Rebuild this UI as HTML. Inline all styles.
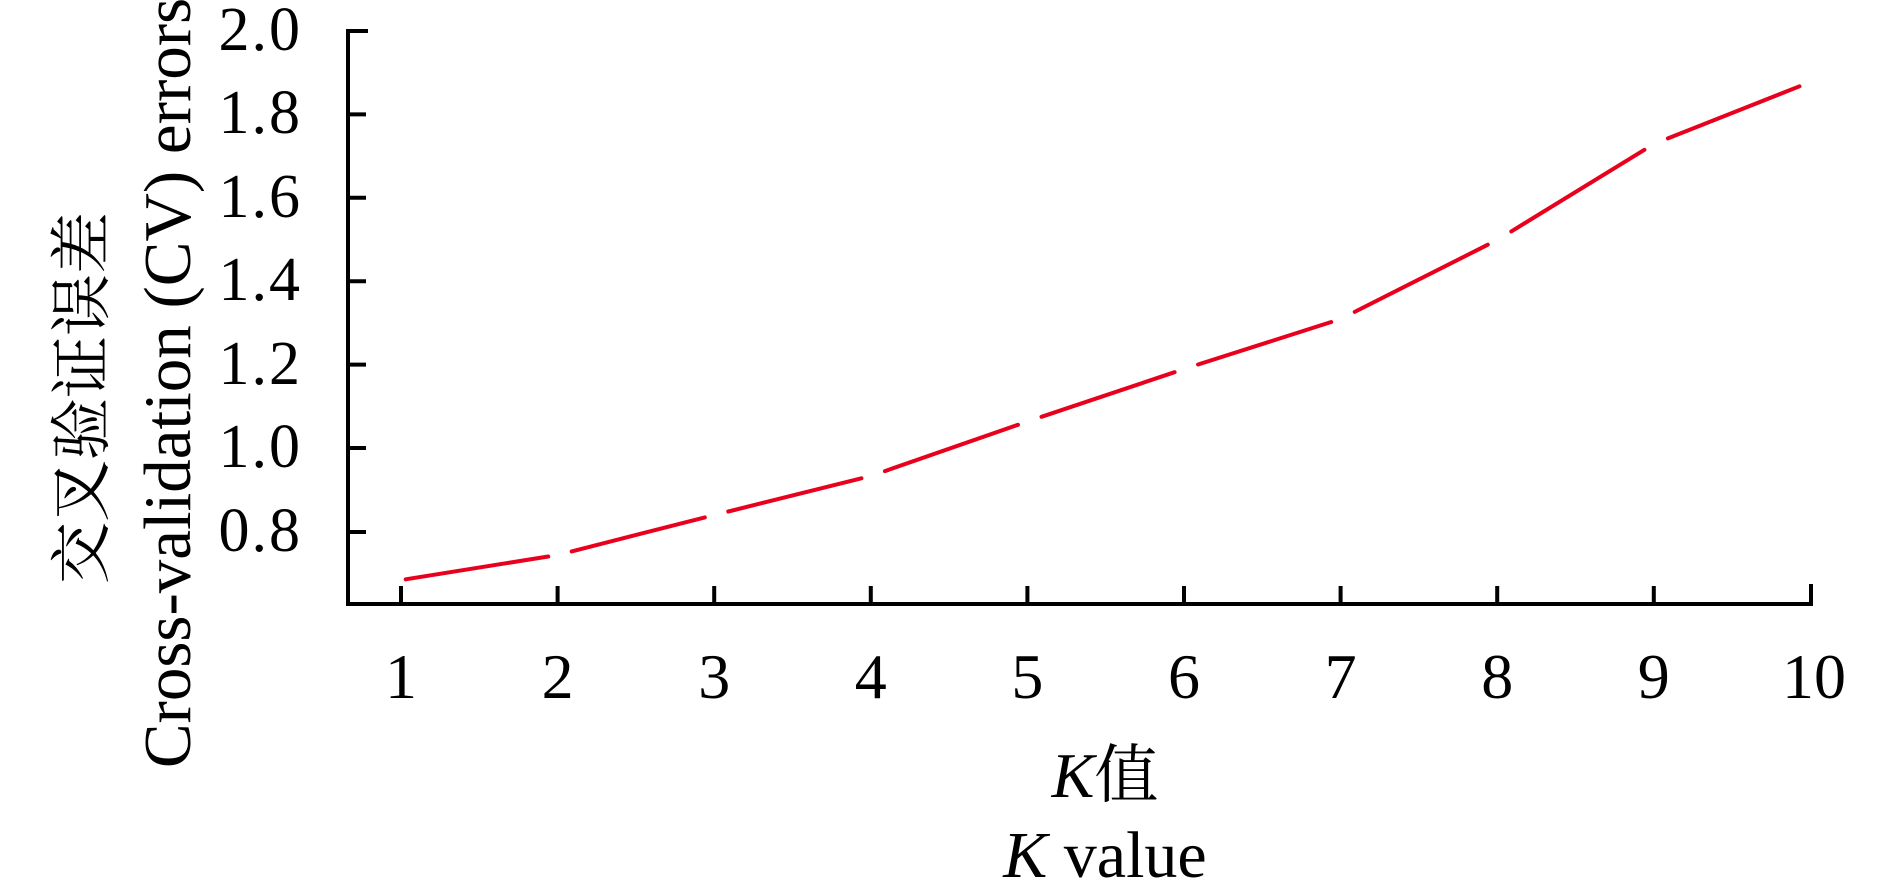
<!DOCTYPE html>
<html><head><meta charset="utf-8"><style>
html,body{margin:0;padding:0;background:#fff;}
svg{display:block;}
text{font-family:"Liberation Serif","Noto Serif CJK SC",serif;fill:#000;}
</style></head><body>
<svg width="1890" height="886" viewBox="0 0 1890 886" xmlns="http://www.w3.org/2000/svg">
<g stroke="#000" stroke-width="4" fill="none">
<polyline points="368,31 348,31 348,604 1811,604 1811,584"/>
<line x1="348" y1="114.4" x2="366" y2="114.4"/>
<line x1="348" y1="197.8" x2="366" y2="197.8"/>
<line x1="348" y1="281.2" x2="366" y2="281.2"/>
<line x1="348" y1="364.6" x2="366" y2="364.6"/>
<line x1="348" y1="448" x2="366" y2="448"/>
<line x1="348" y1="532" x2="366" y2="532"/>
<line x1="401" y1="604" x2="401" y2="586"/>
<line x1="557.6" y1="604" x2="557.6" y2="586"/>
<line x1="714.2" y1="604" x2="714.2" y2="586"/>
<line x1="870.8" y1="604" x2="870.8" y2="586"/>
<line x1="1027.4" y1="604" x2="1027.4" y2="586"/>
<line x1="1184" y1="604" x2="1184" y2="586"/>
<line x1="1340.6" y1="604" x2="1340.6" y2="586"/>
<line x1="1497.2" y1="604" x2="1497.2" y2="586"/>
<line x1="1653.8" y1="604" x2="1653.8" y2="586"/>
</g>
<g stroke="#e8001c" stroke-width="4" fill="none" stroke-linecap="round">
<line x1="405.7" y1="579.3" x2="548.2" y2="556.5"/>
<line x1="571.7" y1="551.4" x2="704.8" y2="517.4"/>
<line x1="728.3" y1="511.5" x2="861.4" y2="478.3"/>
<line x1="884.9" y1="471.1" x2="1018" y2="424.8"/>
<line x1="1041.5" y1="416.8" x2="1174.6" y2="372.2"/>
<line x1="1198.1" y1="364.5" x2="1331.2" y2="322"/>
<line x1="1354.7" y1="311.9" x2="1487.8" y2="244.7"/>
<line x1="1511.3" y1="231.4" x2="1644.4" y2="149.8"/>
<line x1="1667.9" y1="138.4" x2="1799.5" y2="86.3"/>
</g>
<g font-size="62" text-anchor="end" letter-spacing="2">
<text x="302" y="50">2.0</text>
<text x="302" y="133">1.8</text>
<text x="302" y="217">1.6</text>
<text x="302" y="300">1.4</text>
<text x="302" y="384">1.2</text>
<text x="302" y="467">1.0</text>
<text x="302" y="551">0.8</text>
</g>
<g font-size="64" text-anchor="middle">
<text x="401" y="698">1</text>
<text x="557.6" y="698">2</text>
<text x="714.2" y="698">3</text>
<text x="870.8" y="698">4</text>
<text x="1027.4" y="698">5</text>
<text x="1184" y="698">6</text>
<text x="1340.6" y="698">7</text>
<text x="1497.2" y="698">8</text>
<text x="1653.8" y="698">9</text>
<text x="1814" y="698">10</text>
</g>
<g text-anchor="middle">
<text font-size="62" transform="translate(103,398) rotate(-90)">交叉验证误差</text>
<text font-size="67" transform="translate(190,383) rotate(-90)">Cross-validation (CV) errors</text>
<text font-size="64" x="1105" y="797"><tspan font-style="italic">K</tspan>值</text>
<text font-size="66" x="1105" y="877"><tspan font-style="italic">K</tspan> value</text>
</g>
</svg>
</body></html>
